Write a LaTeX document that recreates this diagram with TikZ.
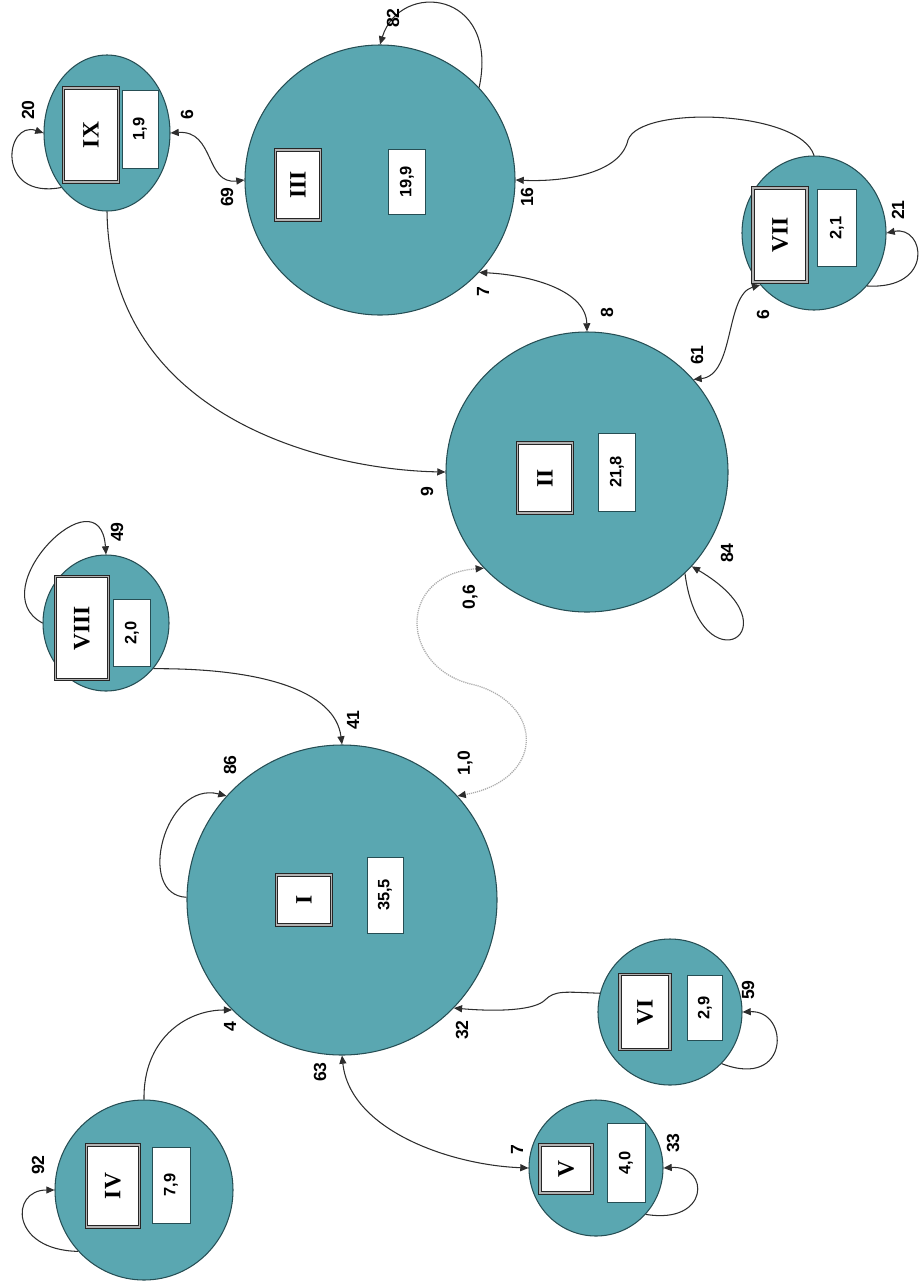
\documentclass[tikz,border=0pt]{standalone}
\usepackage{fontspec}
\setmainfont{Liberation Serif}
\setsansfont{Liberation Sans}
\usetikzlibrary{shapes.geometric,arrows.meta}
\definecolor{tealfill}{RGB}{90,167,177}
\definecolor{tealdark}{RGB}{38,78,84}
\definecolor{edgec}{RGB}{45,45,45}
\tikzset{
  state/.style n args={2}{ellipse, draw=tealdark, line width=0.9pt, fill=tealfill, inner sep=0pt,
    minimum width=#1*0.06cm, minimum height=#2*0.06cm},
  romanbox/.style n args={2}{rectangle, draw=black!85, double=gray!60, double distance=1.3pt,
    line width=0.8pt, fill=white, inner sep=0pt, rotate=90,
    minimum width=#2*0.03cm, minimum height=#1*0.03cm,
    font=\fontsize{20}{24}\selectfont\bfseries},
  valbox/.style n args={2}{rectangle, draw=tealdark, line width=0.8pt, fill=white, inner sep=0pt, rotate=90,
    minimum width=#2*0.03cm, minimum height=#1*0.03cm,
    font=\sffamily\bfseries\fontsize{14}{16}\selectfont},
  lab/.style={font=\sffamily\bfseries\fontsize{15}{17}\selectfont, rotate=90, inner sep=0pt},
  conn/.style={draw=edgec, line width=0.9pt, -{Triangle[length=7pt,width=6pt]}},
  biconn/.style={draw=edgec, line width=0.9pt, {Triangle[length=7pt,width=6pt]}-{Triangle[length=7pt,width=6pt]}},
  dotconn/.style={draw=gray!65, line width=1.1pt, dash pattern=on 1pt off 0.8pt,
    {Triangle[length=7pt,width=6pt,color=edgec]}-{Triangle[length=7pt,width=6pt,color=edgec]}},
}
\begin{document}
\begin{tikzpicture}[x=0.03cm, y=-0.03cm]
\useasboundingbox (0,0) rectangle (921,1281);

% states
\node[state={155}{155}] (s1) at (342,900) {};
\node[state={141}{140}] (s2) at (587,472) {};
\node[state={135}{135}] (s3) at (380,180) {};
\node[state={89}{90}] (s4) at (144,1190) {};
\node[state={67}{68}] (s5) at (596,1168) {};
\node[state={72}{73}] (s6) at (670,1012) {};
\node[state={72}{77}] (s7) at (814,233) {};
\node[state={63}{68}] (s8) at (106,623) {};
\node[state={63}{78}] (s9) at (107,133) {};

% boxes
\node[romanbox={55}{50}] (r1) at (304,900) {I};
\node[valbox={36}{76}] (v1) at (385,895) {35,5};
\node[romanbox={55}{70}] (r2) at (545,478) {II};
\node[valbox={37}{78}] (v2) at (617,472) {21,8};
\node[romanbox={45}{70}] (r3) at (298,185) {III};
\node[valbox={37}{65}] (v3) at (407,182) {19,9};
\node[romanbox={53}{82}] (r4) at (113,1186) {IV};
\node[valbox={38}{76}] (v4) at (171,1185) {7,9};
\node[romanbox={52}{48}] (r5) at (566,1169) {V};
\node[valbox={38}{79}] (v5) at (626,1163) {4,0};
\node[romanbox={50}{75}] (r6) at (645,1012) {VI};
\node[valbox={35}{65}] (v6) at (705,1008) {2,9};
\node[romanbox={54}{94}] (r7) at (780,235) {VII};
\node[valbox={39}{77}] (v7) at (837,228) {2,1};
\node[romanbox={53}{103}] (r8) at (82,628) {VIII};
\node[valbox={37}{67}] (v8) at (132,633) {2,0};
\node[romanbox={55}{94}] (r9) at (91,135) {IX};
\node[valbox={36}{78}] (v9) at (140,129) {1,9};

% connectors
\draw[conn] (s9.230) .. controls (-5,200) and (5,120) .. (s9.180);
\draw[biconn] (s9.0) .. controls (215,130) and (205,185) .. (s3.180);
\draw[conn] (s9.270) .. controls (110,420) and (330,470) .. (s2.180);
\draw[conn] (s3.43) .. controls (500,-10) and (400,-20) .. (s3.90);
\draw[conn] (s7.90) .. controls (800,110) and (640,105) .. (628,140)
  .. controls (620,175) and (560,182) .. (s3.0);
\draw[biconn] (s3.-43) .. controls (530,275) and (586,290) .. (s2.90);
\draw[biconn] (s2.41) .. controls (735,375) and (725,295) .. (s7.224);
\draw[conn] (s7.315) .. controls (935,290) and (925,225) .. (s7.0);
\draw[conn] (s2.-46) .. controls (700,690) and (800,630) .. (s2.-42);
\draw[dotconn] (s2.223) .. controls (395,575) and (400,670) .. (475,685)
  .. controls (545,705) and (545,780) .. (s1.42);
\draw[conn] (s8.316) .. controls (260,668) and (335,690) .. (s1.90);
\draw[conn] (s8.180) .. controls (-20,590) and (100,470) .. (s8.90);
\draw[conn] (s1.179) .. controls (135,895) and (165,780) .. (s1.138);
\draw[conn] (s4.90) .. controls (143,1040) and (185,1010) .. (s1.225);
\draw[conn] (s4.223) .. controls (10,1250) and (10,1190) .. (s4.180);
\draw[biconn] (s1.270) .. controls (350,1130) and (450,1165) .. (s5.180);
\draw[conn] (s6.165) .. controls (565,992) and (555,990) .. (545,1000)
  .. controls (535,1010) and (500,1012) .. (s1.316);
\draw[conn] (s6.-45) .. controls (790,1090) and (790,1010) .. (s6.0);
\draw[conn] (s5.317) .. controls (710,1225) and (710,1165) .. (s5.0);

% labels
\node[lab] (l1) at (28,110) {20};
\node[lab] (l2) at (187,115) {6};
\node[lab] (l3) at (227,197) {69};
\node[lab] (l4) at (393,18) {82};
\node[lab] (l5) at (527,197) {16};
\node[lab] (l6) at (483,292) {7};
\node[lab] (l7) at (607,313) {8};
\node[lab] (l8) at (697,355) {61};
\node[lab] (l9) at (763,315) {6};
\node[lab] (l10) at (898,210) {21};
\node[lab] (l11) at (427,492) {9};
\node[lab] (l12) at (727,553) {84};
\node[lab] (l13) at (470,597) {0,6};
\node[lab] (l14) at (465,763) {1,0};
\node[lab] (l15) at (353,720) {41};
\node[lab] (l16) at (230,765) {86};
\node[lab] (l17) at (117,532) {49};
\node[lab] (l18) at (38,1165) {92};
\node[lab] (l19) at (230,1027) {4};
\node[lab] (l20) at (320,1072) {63};
\node[lab] (l21) at (517,1150) {7};
\node[lab] (l22) at (462,1030) {32};
\node[lab] (l23) at (748,990) {59};
\node[lab] (l24) at (673,1143) {33};
\end{tikzpicture}
\end{document}
